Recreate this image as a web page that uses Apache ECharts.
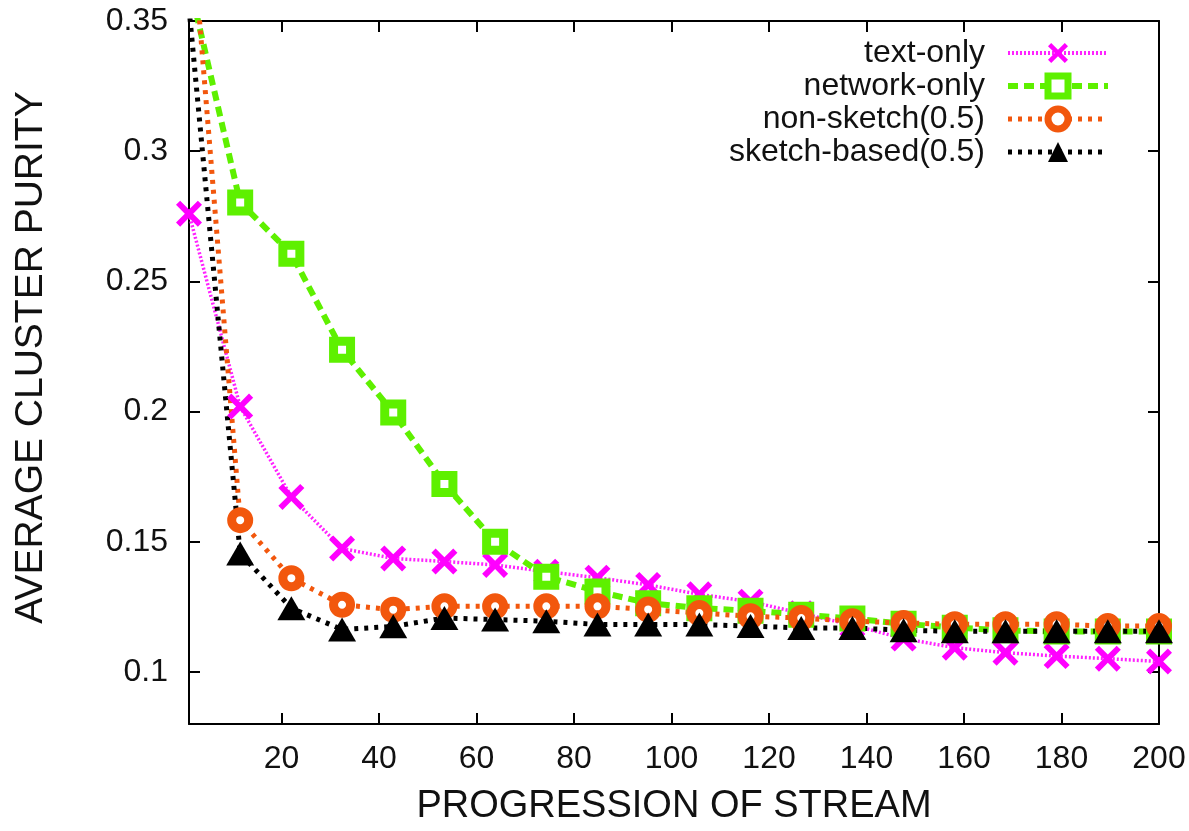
<!DOCTYPE html>
<html>
<head>
<meta charset="utf-8">
<title>Average cluster purity</title>
<script src="https://cdn.jsdelivr.net/npm/echarts@6/dist/echarts.min.js"></script>
<style>
html, body { margin:0; padding:0; background:#fff; }
#chart_main { width:1189px; height:831px; }
</style>
</head>
<body>
<div id="chart_main"></div>
<script type="text/javascript">
// x positions of the points (progression of stream)
var stream_x = [1, 11.5, 22, 32.4, 42.9, 53.4, 63.8, 74.3, 84.8, 95.2, 105.7, 116.2, 126.6, 137.1, 147.6, 158.1, 168.5, 179, 189.5, 200];

// average cluster purity per method
var text_only = [0.276, 0.2019, 0.1672, 0.1474, 0.1436, 0.1424, 0.1411, 0.1385, 0.1362, 0.1334, 0.1298, 0.127, 0.1225, 0.118, 0.1128, 0.1093, 0.1074, 0.1061, 0.1051, 0.104];
var network_only = [0.365, 0.2803, 0.2606, 0.2237, 0.1996, 0.1722, 0.150, 0.1366, 0.1309, 0.1264, 0.1245, 0.1235, 0.122, 0.1205, 0.1185, 0.117, 0.116, 0.1155, 0.1155, 0.1155];
var non_sketch = [0.40, 0.1583, 0.136, 0.1258, 0.1239, 0.1252, 0.1252, 0.1252, 0.1252, 0.124, 0.1226, 0.1214, 0.1207, 0.1195, 0.1188, 0.1183, 0.1183, 0.1183, 0.1176, 0.1176];
var sketch_based = [0.355, 0.1455, 0.1245, 0.1163, 0.1175, 0.1207, 0.1201, 0.1195, 0.1182, 0.1182, 0.1182, 0.1176, 0.1169, 0.1169, 0.116, 0.1156, 0.1156, 0.1156, 0.1156, 0.1156];

var series_names = ['text-only', 'network-only', 'non-sketch(0.5)', 'sketch-based(0.5)'];
var x_ticks = [20, 40, 60, 80, 100, 120, 140, 160, 180, 200];
var y_ticks = [0.1, 0.15, 0.2, 0.25, 0.3, 0.35];

var font = 'Liberation Sans, Arial, sans-serif';
var cross = 'path://M0,1.6 L1.6,0 L5,3.4 L8.4,0 L10,1.6 L6.6,5 L10,8.4 L8.4,10 L5,6.6 L1.6,10 L0,8.4 L3.4,5 Z';

function pairs(ys){
	var out = [];
	for (var i = 0; i < ys.length; i++) {
		out.push([stream_x[i], ys[i]]);
	}
	return out;
}

function frameAxis(pos, min, max, ticks, show){
	return {
		type: 'value', position: pos, min: min, max: max,
		axisLine: {show: true, onZero: false, lineStyle: {color: '#000', width: 2}},
		axisTick: {show: true, inside: true, length: 11, customValues: ticks, lineStyle: {color: '#000', width: 2}},
		axisLabel: {show: show, customValues: ticks, fontSize: 32, color: '#111', fontFamily: font, margin: 19},
		splitLine: {show: false}
	};
}

var xBottom = frameAxis('bottom', 1, 200, x_ticks, true);
xBottom.name = 'PROGRESSION OF STREAM';
xBottom.nameLocation = 'middle';
xBottom.nameGap = 64;
xBottom.nameTextStyle = {fontSize: 38, color: '#111', fontFamily: font};
var xTop = frameAxis('top', 1, 200, x_ticks, false);

var yLeft = frameAxis('left', 0.08, 0.35, y_ticks, true);
yLeft.name = 'AVERAGE CLUSTER PURITY';
yLeft.nameLocation = 'middle';
yLeft.nameGap = 138;
yLeft.nameTextStyle = {fontSize: 39, color: '#111', fontFamily: font, padding: [0, 0, 0, 30]};
yLeft.axisLabel.margin = 21;
var yRight = frameAxis('right', 0.08, 0.35, y_ticks, false);

var myChart = echarts.init(document.getElementById('chart_main'));
var option = {
	animation: false,
	backgroundColor: '#fff',
	grid: {left: 189, right: 30, top: 21, bottom: 102},
	legend: {
		orient: 'vertical', right: 78, top: 37, align: 'right', padding: 0,
		itemWidth: 100, itemHeight: 25, itemGap: 1,
		textStyle: {fontSize: 32, color: '#111', fontFamily: font, lineHeight: 32, padding: [0, 18, 0, 0]},
		data: [
			{name: series_names[0], lineStyle: {width: 4}},
			{name: series_names[1], itemStyle: {borderWidth: 7}, lineStyle: {width: 6}},
			{name: series_names[2], itemStyle: {borderWidth: 7}, lineStyle: {width: 5}},
			{name: series_names[3], lineStyle: {width: 5}}
		]
	},
	xAxis: [xBottom, xTop],
	yAxis: [yLeft, yRight],
	series: [
		{
			name: series_names[0], type: 'line', data: pairs(text_only),
			symbol: cross, symbolSize: 26,
			itemStyle: {color: '#ff00ff'},
			lineStyle: {color: '#ff22ff', width: 3.5, type: [2, 2]}
		},
		{
			name: series_names[1], type: 'line', data: pairs(network_only),
			symbol: 'rect', symbolSize: 17,
			itemStyle: {color: '#fff', borderColor: '#5ef000', borderWidth: 9},
			lineStyle: {color: '#5ef000', width: 6, type: [10, 6]}
		},
		{
			name: series_names[2], type: 'line', data: pairs(non_sketch),
			symbol: 'circle', symbolSize: 17,
			itemStyle: {color: '#fff', borderColor: '#f2570d', borderWidth: 9},
			lineStyle: {color: '#f2570d', width: 5, type: [4, 6]}
		},
		{
			name: series_names[3], type: 'line', data: pairs(sketch_based),
			symbol: 'triangle', symbolSize: [28, 24],
			itemStyle: {color: '#000'},
			lineStyle: {color: '#000', width: 5, type: [4, 6]}
		}
	]
};
myChart.setOption(option);
</script>
</body>
</html>
